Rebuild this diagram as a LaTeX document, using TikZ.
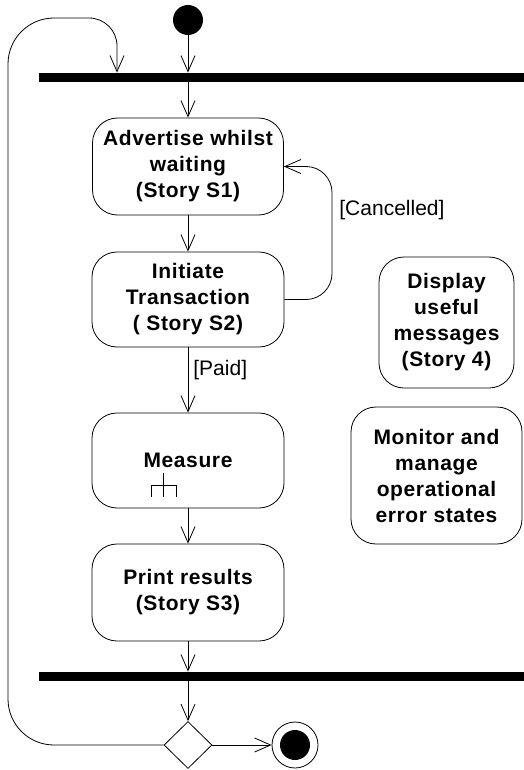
\documentclass[tikz,border=0pt]{standalone}
\usepackage{fontspec}
\setmainfont{Liberation Sans}
\newfontfamily\actfont[LetterSpace=3]{Liberation Sans}
\usetikzlibrary{arrows.meta,shapes.geometric,calc}
\begin{document}
\begin{tikzpicture}[x=1pt,y=-1pt,
  every path/.style={line width=0.8pt},
  act/.style={draw,rounded corners=25pt,align=center,inner sep=0pt,
    font=\actfont\fontsize{21}{26}\selectfont\bfseries},
  bar/.style={fill=black,draw=none,inner sep=0pt,minimum height=9pt},
  arr/.style={-{Straight Barb[length=16pt,width=14pt,line width=0.8pt]}},
  lbl/.style={font=\fontsize{21}{26}\selectfont,inner sep=0pt}
]
\useasboundingbox (0,0) rectangle (524,770);
% initial
\node[circle,fill=black,minimum size=30pt,inner sep=0pt] (init) at (188,20) {};
% bars
\node[bar,minimum width=485pt] (bar1) at (281.5,77.5) {};
\node[bar,minimum width=485pt] (bar2) at (281.5,676.5) {};
% activities
\node[act,minimum width=191pt,minimum height=97pt] (adv) at (188,166.5)
  {Advertise whilst\\waiting\\(Story S1)};
\node[act,minimum width=192pt,minimum height=95pt] (ini) at (188,299.5)
  {Initiate\\Transaction\\( Story S2)};
\node[act,minimum width=192pt,minimum height=95pt] (mea) at (188,460.5) {};
\node[font=\actfont\fontsize{21}{26}\selectfont\bfseries,inner sep=0pt] (meat) at (188,460) {Measure};
\node[act,minimum width=192pt,minimum height=97pt] (prn) at (188,592.5)
  {Print results\\(Story S3)};
\node[act,minimum width=135pt,minimum height=131pt] (dis) at (446.5,322.5)
  {Display\\useful\\messages\\(Story 4)};
\node[act,minimum width=171pt,minimum height=137pt] (mon) at (436.5,475.5)
  {Monitor and\\manage\\operational\\error states};
% rake icon
\draw (163,473) -- (163,497) (151,497) -- (151,485) -- (176,485) -- (176,497);
% decision and final
\node[diamond,draw,minimum width=48pt,minimum height=47pt,inner sep=0pt,aspect=1] (dec) at (188,745) {};
\node[circle,draw,minimum size=46pt,inner sep=0pt] (fin) at (295,745) {};
\node[circle,fill=black,minimum size=30pt,inner sep=0pt] (fini) at (295,745) {};
% flows
\draw[arr] (init.south) -- (init.south |- bar1.north);
\draw[arr] (adv.north |- bar1.south) -- (adv.north);
\draw[arr] (adv.south) -- (ini.north);
\draw[arr] (ini.south) -- node[lbl,right=5pt,pos=0.35]{[Paid]} (mea.north);
\draw[arr] (mea.south) -- (prn.north);
\draw[arr] (prn.south) -- (prn.south |- bar2.north);
\draw[arr] (dec.north |- bar2.south) -- (dec.north);
\draw[arr] (dec.east) -- (fin.west);
% cancelled loop
\coordinate (cx) at (332,0);
\draw[arr,rounded corners=26pt] (ini.east) -- (ini.east -| cx) -- (adv.east -| cx)
  -- (adv.east);
\node[lbl,anchor=west] (canc) at (339,210) {[Cancelled]};
% back loop
\coordinate (lx) at (8,0);
\coordinate (ly) at (0,18);
\coordinate (rx) at (117,0);
\draw[arr,rounded corners=46pt] (dec.west) -- (dec.west -| lx) -- (lx |- ly)
  [rounded corners=28pt] -- (rx |- ly) -- (rx |- bar1.north);
\end{tikzpicture}
\end{document}
